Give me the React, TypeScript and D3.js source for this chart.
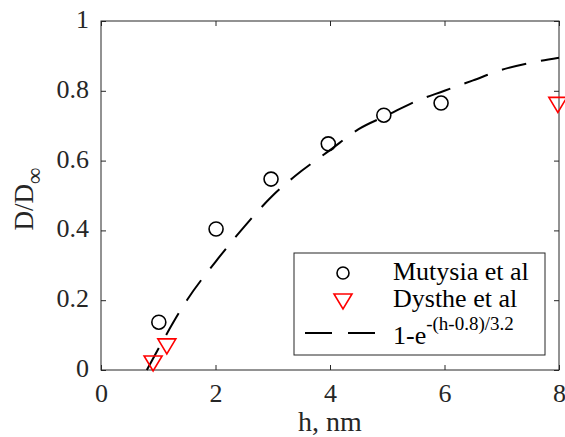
import { useRef, useEffect } from "react";
import * as d3 from "d3";

// Mutysia et al (circles)
const mutH = [1.01, 2.01, 2.97, 3.97, 4.94, 5.94];
const mutD = [0.137, 0.404, 0.547, 0.648, 0.73, 0.765];

// Dysthe et al (red down triangles)
const dysH = [0.91, 1.15, 7.98];
const dysD = [0.023, 0.072, 0.764];

// fitted curve
const fitH = [0.8, 1, 1.5, 2, 2.5, 3, 3.5, 4, 4.5, 5, 5.5, 6, 6.5, 7, 7.5, 8];
const fitD = [0, 0.06, 0.2, 0.31, 0.41, 0.5, 0.57, 0.63, 0.69, 0.73, 0.77, 0.8, 0.83, 0.86, 0.88, 0.895];

const xTicks = [0, 2, 4, 6, 8];
const yTicks = [0, 0.2, 0.4, 0.6, 0.8, 1];

const FONT = "'Liberation Serif', 'Times New Roman', Times, 'DejaVu Serif', serif";

export default function App() {
  const ref = useRef<SVGSVGElement>(null);
  useEffect(() => {
    const svg = d3.select(ref.current);
    svg.selectAll("*").remove();

    const left = 101, right = 559, top = 21, bottom = 370;
    const x = d3.scaleLinear().domain([0, 8]).range([left, right]);
    const y = d3.scaleLinear().domain([0, 1]).range([bottom, top]);
    const axisCol = "#262626";

    // box
    svg
      .append("rect")
      .attr("x", left)
      .attr("y", top)
      .attr("width", right - left)
      .attr("height", bottom - top)
      .attr("fill", "none")
      .attr("stroke", axisCol)
      .attr("stroke-width", 1);

    // axes, ticks point inward like matlab
    const gx = svg
      .append("g")
      .attr("transform", `translate(0,${bottom})`)
      .call(d3.axisBottom(x).tickValues(xTicks).tickSize(-5).tickPadding(13.5).tickFormat(d3.format("")));
    const gxt = svg
      .append("g")
      .attr("transform", `translate(0,${top})`)
      .call(d3.axisTop(x).tickValues(xTicks).tickSize(-5).tickFormat(() => ""));
    const gy = svg
      .append("g")
      .attr("transform", `translate(${left},0)`)
      .call(d3.axisLeft(y).tickValues(yTicks).tickSize(-5).tickPadding(12).tickFormat(d3.format("")));
    const gyr = svg
      .append("g")
      .attr("transform", `translate(${right},0)`)
      .call(d3.axisRight(y).tickValues(yTicks).tickSize(-5).tickFormat(() => ""));
    [gx, gxt, gy, gyr].forEach((g) => {
      g.attr("font-family", null).attr("font-size", null);
      g.select(".domain").remove();
      g.selectAll("line").attr("stroke", axisCol);
      g.selectAll("text")
        .attr("fill", axisCol)
        .style("font-family", FONT)
        .style("font-size", "26px");
    });
    gy.selectAll("text").attr("dy", "0.25em");

    // axis labels
    svg
      .append("text")
      .attr("x", (left + right) / 2)
      .attr("y", 431)
      .attr("text-anchor", "middle")
      .style("font-family", FONT)
      .style("font-size", "28px")
      .attr("fill", axisCol)
      .text("h, nm");

    const yl = svg
      .append("text")
      .attr("transform", `translate(33,199) rotate(-90)`)
      .attr("text-anchor", "middle")
      .style("font-family", FONT)
      .style("font-size", "27px")
      .attr("fill", axisCol);
    yl.append("tspan").text("D/D");
    yl.append("tspan").attr("dy", 9).style("font-size", "23px").text("\u221e");

    // fit line
    const line = d3
      .line<number>()
      .x((d, i) => x(fitH[i]))
      .y((d) => y(d))
      .curve(d3.curveMonotoneX);
    svg
      .append("path")
      .attr("d", line(fitD))
      .attr("fill", "none")
      .attr("stroke", "#000")
      .attr("stroke-width", 2)
      .attr("stroke-dasharray", "25 15");

    // circles
    svg
      .selectAll("circle.mut")
      .data(mutH)
      .join("circle")
      .attr("class", "mut")
      .attr("cx", (d) => x(d))
      .attr("cy", (d, i) => y(mutD[i]))
      .attr("r", 7)
      .attr("fill", "none")
      .attr("stroke", "#000")
      .attr("stroke-width", 1.6);

    // triangles
    const tri = (cx: number, cy: number) =>
      `M${cx - 9},${cy - 6}L${cx + 9},${cy - 6}L${cx},${cy + 9}Z`;
    svg
      .selectAll("path.dys")
      .data(dysH)
      .join("path")
      .attr("class", "dys")
      .attr("d", (d, i) => tri(x(d), y(dysD[i])))
      .attr("fill", "none")
      .attr("stroke", "#ff0000")
      .attr("stroke-width", 1.6);

    // legend
    const lg = svg.append("g");
    lg.append("rect")
      .attr("x", 294)
      .attr("y", 253)
      .attr("width", 251)
      .attr("height", 102)
      .attr("fill", "#fff")
      .attr("stroke", axisCol)
      .attr("stroke-width", 1);
    lg.append("circle")
      .attr("cx", 343)
      .attr("cy", 273)
      .attr("r", 6)
      .attr("fill", "none")
      .attr("stroke", "#000")
      .attr("stroke-width", 1.6);
    lg.append("path")
      .attr("d", tri(343, 300))
      .attr("fill", "none")
      .attr("stroke", "#ff0000")
      .attr("stroke-width", 1.6);
    lg.append("line")
      .attr("x1", 305)
      .attr("x2", 375)
      .attr("y1", 333)
      .attr("y2", 333)
      .attr("stroke", "#000")
      .attr("stroke-width", 2)
      .attr("stroke-dasharray", "27 16");
    const lt = (yy: number) =>
      lg.append("text")
        .attr("x", 393)
        .attr("y", yy)
        .style("font-family", FONT)
        .style("font-size", "26px")
        .attr("fill", "#000");
    lt(280).text("Mutysia et al");
    lt(307).text("Dysthe et al");
    const f = lt(344);
    f.append("tspan").text("1-e");
    f.append("tspan").attr("dy", -14).style("font-size", "19px").text("-(h-0.8)/3.2");
  }, []);
  return (
    <svg
      ref={ref}
      width={565}
      height={437}
      style={{ position: "absolute", left: 0, top: 0, background: "#fff" }}
    />
  );
}
